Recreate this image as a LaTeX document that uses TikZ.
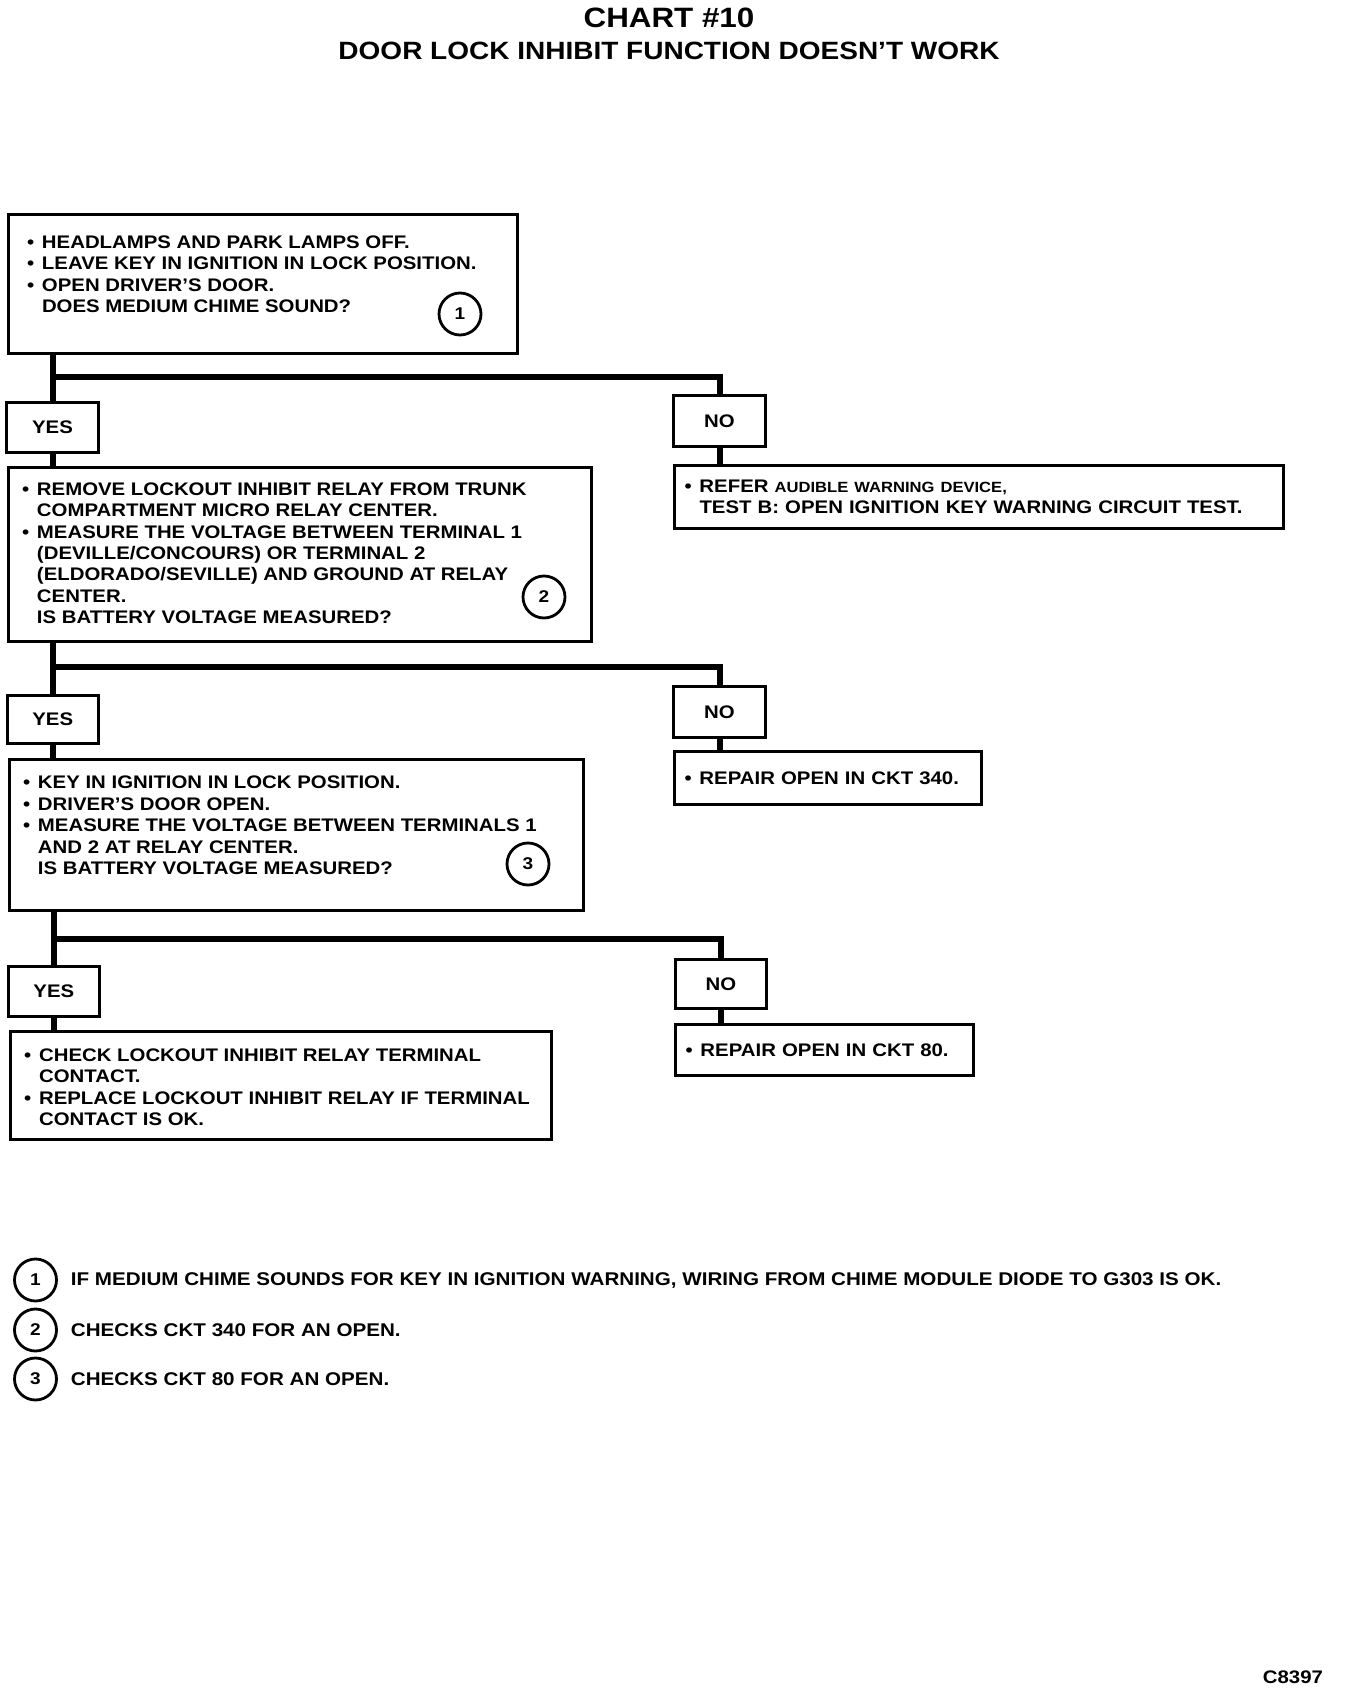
\documentclass[tikz,border=0pt]{standalone}
\usepackage{fontspec}
\setmainfont[FakeStretch=1.12]{Liberation Sans}
\usetikzlibrary{positioning}
\begin{document}
\begin{tikzpicture}[x=.5pt,y=-.5pt,
		txt/.style={font=\bfseries\fontsize{9.1}{10.7}\selectfont},
		chartbox/.style={draw,line width=1.5pt,anchor=north west,inner ysep=0pt,txt},
		question/.style={chartbox,inner xsep=7pt},
		answer/.style={chartbox,inner sep=0pt,minimum width=46pt,minimum height=25pt},
		result/.style={chartbox,align=left,inner xsep=5pt},
		wire/.style={line width=3pt},
		numc/.style={draw,circle,line width=1.4pt,minimum size=21pt,inner sep=0pt,font=\bfseries\fontsize{8.5}{8.5}\selectfont}]
				\def\bul{\makebox[7.5pt][l]{\textbullet}}
				\def\ind{\hspace*{7.5pt}}
				% #1 height, #2 width, #3 space above first line, #4 text
				\def\qbox#1#2#3#4{\parbox[b][#1][t]{#2}{\vspace*{#3}\raggedright #4}}
				
				\useasboundingbox (0,0) rectangle (1344,1690);
				
				\node[font=\bfseries\fontsize{14}{14}\selectfont] (title) at (669,18) {CHART \#10};
				\node[font=\bfseries\fontsize{12.5}{12.5}\selectfont] (subtitle) at (669,51) {DOOR LOCK INHIBIT FUNCTION DOESN’T WORK};
				
				% first question
				\node[question,inner xsep=9.5pt] (q1) at (6.5,213) {\qbox{69.5pt}{235.75pt}{10.5pt}{%
					\bul HEADLAMPS AND PARK LAMPS OFF.\\
					\bul LEAVE KEY IN IGNITION IN LOCK POSITION.\\
					\bul OPEN DRIVER’S DOOR.\\
					\ind DOES MEDIUM CHIME SOUND?}};
				\node[numc] (c1) at (460,314) {1};
				
				\coordinate (b1) at (0,377);
				\node[answer,minimum height=25pt] (yes1) at (5,401) {YES};
				\node[answer,minimum height=25.5pt] (no1) at (672,394) {NO};
				
				\node[question] (q2) at (6.5,466) {\qbox{87pt}{277.75pt}{7.5pt}{%
					\bul REMOVE LOCKOUT INHIBIT RELAY FROM TRUNK\\
					\ind COMPARTMENT MICRO RELAY CENTER.\\
					\bul MEASURE THE VOLTAGE BETWEEN TERMINAL 1\\
					\ind (DEVILLE/CONCOURS) OR TERMINAL 2\\
					\ind (ELDORADO/SEVILLE) AND GROUND AT RELAY\\
					\ind CENTER.\\
					\ind IS BATTERY VOLTAGE MEASURED?}};
				\node[numc] (c2) at (544,597) {2};
				\node[result,text width=294.5pt,minimum height=31.5pt] (r1) at (673,464) {%
					\bul REFER {\fontsize{7.4}{10.7}\selectfont AUDIBLE WARNING DEVICE,}\\
					\ind TEST B: OPEN IGNITION KEY WARNING CIRCUIT TEST.};
				
				% second question
				\coordinate (b2) at (0,667);
				\node[answer,minimum width=45.75pt,minimum height=24pt] (yes2) at (5.5,694) {YES};
				\node[answer,minimum height=25.5pt] (no2) at (672,685) {NO};
				
				\node[question] (q3) at (7.5,758) {\qbox{75.5pt}{273pt}{8.3pt}{%
					\bul KEY IN IGNITION IN LOCK POSITION.\\
					\bul DRIVER’S DOOR OPEN.\\
					\bul MEASURE THE VOLTAGE BETWEEN TERMINALS 1\\
					\ind AND 2 AT RELAY CENTER.\\
					\ind IS BATTERY VOLTAGE MEASURED?}};
				\node[numc] (c3) at (528,864) {3};
				\node[result,text width=143.5pt,minimum height=26.5pt] (r2) at (673,750) {\bul REPAIR OPEN IN CKT 340.};
				
				% third question
				\coordinate (b3) at (0,939);
				\node[answer,minimum width=45.7pt] (yes3) at (6.6,965) {YES};
				\node[answer,minimum width=45.5pt,minimum height=24.5pt] (no3) at (674,958) {NO};
				
				\node[question] (q4) at (8.6,1030) {\qbox{54pt}{256.7pt}{8.5pt}{%
					\bul CHECK LOCKOUT INHIBIT RELAY TERMINAL\\
					\ind CONTACT.\\
					\bul REPLACE LOCKOUT INHIBIT RELAY IF TERMINAL\\
					\ind CONTACT IS OK.}};
				\node[result,text width=138.75pt,minimum height=25.5pt] (r3) at (674,1023) {\bul REPAIR OPEN IN CKT 80.};
				
				% connectors
				\draw[wire] (q1.south -| yes1.north) -- (yes1.north);
				\draw[wire] (b1 -| yes1.north) -- (b1 -| no1.north) -- (no1.north);
				\draw[wire] (yes1.south) -- (q2.north -| yes1.south);
				\draw[wire] (no1.south) -- (r1.north -| no1.south);
				
				\draw[wire] (q2.south -| yes2.north) -- (yes2.north);
				\draw[wire] (b2 -| yes2.north) -- (b2 -| no2.north) -- (no2.north);
				\draw[wire] (yes2.south) -- (q3.north -| yes2.south);
				\draw[wire] (no2.south) -- (r2.north -| no2.south);
				
				\draw[wire] (q3.south -| yes3.north) -- (yes3.north);
				\draw[wire] (b3 -| yes3.north) -- (b3 -| no3.north) -- (no3.north);
				\draw[wire] (yes3.south) -- (q4.north -| yes3.south);
				\draw[wire] (no3.south) -- (r3.north -| no3.south);
				
				% notes
				\node[numc] (n1) at (35.5,1280) {1};
				\node[numc] (n2) at (35.5,1330) {2};
				\node[numc] (n3) at (35.5,1379) {3};
				\node[txt,font=\bfseries\fontsize{9.2}{10.7}\selectfont,right=3pt of n1] (t1) {IF MEDIUM CHIME SOUNDS FOR KEY IN IGNITION WARNING, WIRING FROM CHIME MODULE DIODE TO G303 IS OK.};
				\node[txt,font=\bfseries\fontsize{9.2}{10.7}\selectfont,right=3pt of n2] (t2) {CHECKS CKT 340 FOR AN OPEN.};
				\node[txt,font=\bfseries\fontsize{9.2}{10.7}\selectfont,right=3pt of n3] (t3) {CHECKS CKT 80 FOR AN OPEN.};
				
				\node[txt,anchor=east] (code) at (1330,1677) {C8397};
			\end{tikzpicture}
\end{document}
